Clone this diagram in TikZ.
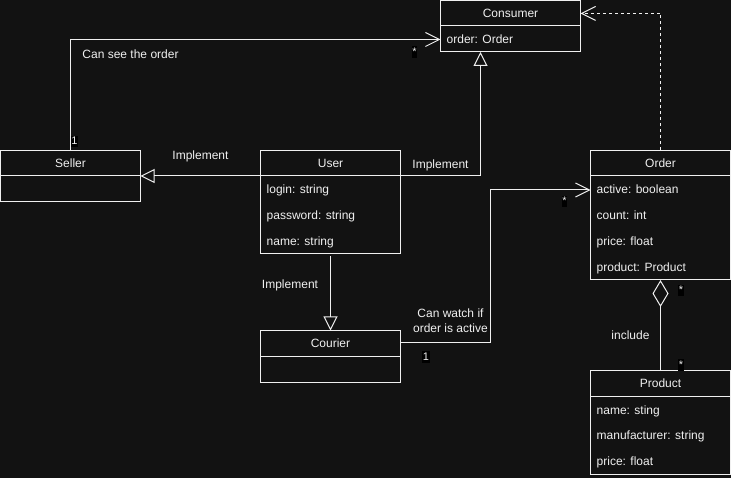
\documentclass[tikz,border=0pt]{standalone}
\usepackage{fontspec}
\setmainfont{Liberation Sans}
\usetikzlibrary{arrows.meta}
\definecolor{bg}{HTML}{121212}
\definecolor{fg}{HTML}{F0F0F0}
\begin{document}
\begin{tikzpicture}[x=1pt,y=-1pt,
  font=\fontsize{12}{14}\selectfont,
  cls/.style={draw=fg, line width=1pt, anchor=north west, inner sep=0pt, outer sep=0pt, minimum width=140pt},
  ttl/.style={text=fg, inner sep=0pt, text height=10pt, text depth=1pt},
  attr/.style={text=fg, anchor=west, inner sep=0pt, text height=10pt, text depth=1pt},
  lbl/.style={text=fg, inner sep=0pt, text height=10pt, text depth=1pt, align=center},
  mult/.style={text=fg, fill=black, inner xsep=0.5pt, inner ysep=0.5pt, text height=8.5pt, text depth=2pt, font=\fontsize{11}{12}\selectfont},
  hdr/.style={draw=fg, line width=1pt},
  assoc/.style={draw=fg, line width=1pt, -{Straight Barb[length=14pt,width=14pt,line width=1pt]}},
  inh/.style={draw=fg, line width=1pt, -{Triangle[open,length=14pt,width=14pt,line width=1pt]}},
  dep/.style={draw=fg, line width=1pt, dash pattern=on 3pt off 3pt, -{Straight Barb[length=14pt,width=14pt,line width=1pt]}},
  agg/.style={draw=fg, line width=1pt, {Diamond[open,length=27pt,width=16pt,line width=1pt]}-}
]
\fill[bg] (0,0) rectangle (731,478);
\useasboundingbox (0,0) rectangle (731,478);

% classes
\node[cls, minimum height=51pt] (cons) at (440.5,1) {};
\node[cls, minimum height=51.5pt] (seller) at (0.5,150.5) {};
\node[cls, minimum height=103.5pt] (user) at (260.5,150.5) {};
\node[cls, minimum height=51.5pt] (courier) at (260.5,330.5) {};
\node[cls, minimum height=129.5pt] (order) at (590.5,150.5) {};
\node[cls, minimum height=104pt] (prod) at (590.5,370) {};

% header separators
\foreach \n/\d in {cons/25,seller/25.5,user/25.5,courier/25.5,order/25.5,prod/26}{
  \draw[hdr] ([yshift=-\d pt]\n.north west) -- ([yshift=-\d pt]\n.north east);
}

% titles
\node[ttl] (consT) at ([yshift=-12.5pt]cons.north) {Consumer};
\node[ttl] (sellerT) at ([yshift=-12.5pt]seller.north) {Seller};
\node[ttl] (userT) at ([yshift=-12.5pt]user.north) {User};
\node[ttl] (courierT) at ([yshift=-12.5pt]courier.north) {Courier};
\node[ttl] (orderT) at ([yshift=-12.5pt]order.north) {Order};
\node[ttl] (prodT) at ([yshift=-13pt]prod.north) {Product};

% attributes
\node[attr] (consA) at ([xshift=6pt,yshift=-38.5pt]cons.north west) {order: Order};
\node[attr] (userA1) at ([xshift=6pt,yshift=-39pt]user.north west) {login: string};
\node[attr] (userA2) at ([xshift=6pt,yshift=-65pt]user.north west) {password: string};
\node[attr] (userA3) at ([xshift=6pt,yshift=-91pt]user.north west) {name: string};
\node[attr] (orderA1) at ([xshift=6pt,yshift=-39pt]order.north west) {active: boolean};
\node[attr] (orderA2) at ([xshift=6pt,yshift=-65pt]order.north west) {count: int};
\node[attr] (orderA3) at ([xshift=6pt,yshift=-91pt]order.north west) {price: float};
\node[attr] (orderA4) at ([xshift=6pt,yshift=-117pt]order.north west) {product: Product};
\node[attr] (prodA1) at ([xshift=6pt,yshift=-39.5pt]prod.north west) {name: sting};
\node[attr] (prodA2) at ([xshift=6pt,yshift=-65pt]prod.north west) {manufacturer: string};
\node[attr] (prodA3) at ([xshift=6pt,yshift=-91pt]prod.north west) {price: float};

% connection points
\coordinate (consIn) at ([yshift=-38.5pt]cons.north west);
\coordinate (consR) at ([yshift=-12.5pt]cons.north east);
\coordinate (consB) at ([xshift=40pt]cons.south west);
\coordinate (userL) at ([yshift=-25.5pt]user.north west);
\coordinate (userR) at ([yshift=-25.5pt]user.north east);
\coordinate (userB) at ([yshift=-2pt]user.south);
\coordinate (sellerR) at ([yshift=-25.5pt]seller.north east);
\coordinate (courierR) at ([yshift=-12.5pt]courier.north east);
\coordinate (orderIn) at ([yshift=-39.5pt]order.north west);

% connectors
\draw[assoc] (seller.north) |- (consIn);
\draw[inh] (userL) -- (sellerR);
\draw[inh] (userR) -| (consB);
\draw[inh] (userB) -- (courier.north);
\draw[assoc] (courierR) -- ++(90,0) |- (orderIn);
\draw[dep] (order.north) |- (consR);
\draw[agg] (order.south) -- (prod.north);

% labels
\node[lbl] (l1) at (130.5,54) {Can see the order};
\node[lbl] (l2) at (200.5,155) {Implement};
\node[lbl] (l3) at (440.5,164.5) {Implement};
\node[lbl] (l4) at (290,284.5) {Implement};
\node[lbl, text height=, text depth=, font=\fontsize{12}{14.5}\selectfont] (l5) at (450.5,320.5) {Can watch if\\order is active};
\node[lbl] (l6) at (630.5,334.5) {include};

% multiplicities
\node[mult] (m1) at (74.5,141.5) {1};
\node[mult] (m2) at (414.5,52) {*};
\node[mult] (m3) at (426,357) {1};
\node[mult] (m4) at (564.5,201.5) {*};
\node[mult] (m5) at (681,290.5) {*};
\node[mult] (m6) at (681,365) {*};
\end{tikzpicture}
\end{document}
